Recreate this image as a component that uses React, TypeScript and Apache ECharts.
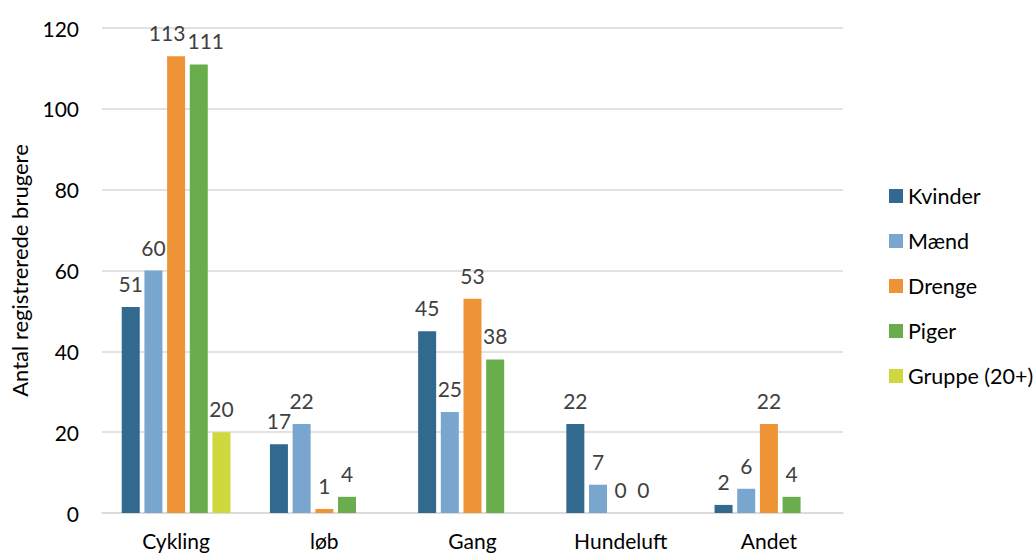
import React, { useEffect, useRef } from "react";
import * as echarts from "echarts";

const categories = ["Cykling", "løb", "Gang", "Hundeluft", "Andet"];
const seriesNames = ["Kvinder", "Mænd", "Drenge", "Piger", "Gruppe (20+)"];
const kvinder = [51, 17, 45, 22, 2];
const maend = [60, 22, 25, 7, 6];
const drenge = [113, 1, 53, 0, 22];
const piger = [111, 4, 38, 0, 4];
const gruppe = [20, null, null, null, null];
const colors = ["#31698F", "#79A6CF", "#EF9436", "#69AD4D", "#CFD83D"];

const FONT = "Lato, 'Open Sans', sans-serif";

export default function App() {
  const ref = useRef<HTMLDivElement>(null);
  useEffect(() => {
    if (!ref.current) return;
    const chart = echarts.init(ref.current, undefined, { renderer: "svg" });
    const values = [kvinder, maend, drenge, piger, gruppe];
    // Excel nudged the two crowded labels above Cykling apart
    const labelNudge: Record<string, number> = { "2-0": -9, "3-0": 7 };
    chart.setOption({
      animation: false,
      backgroundColor: "#ffffff",
      textStyle: { fontFamily: FONT },
      grid: { left: 100, right: 190, top: 28, bottom: 41 },
      legend: {
        orient: "vertical",
        left: 884,
        top: 179,
        itemWidth: 14,
        itemHeight: 14,
        itemGap: 21,
        itemTextGap: 5,
        icon: "rect",
        textStyle: { fontSize: 21.5, color: "#000000", fontFamily: FONT, lineHeight: 24 },
        data: seriesNames,
      },
      xAxis: {
        type: "category",
        data: categories,
        axisLine: { lineStyle: { color: "#d9d9d9", width: 1.5 } },
        axisTick: { show: false },
        axisLabel: { fontSize: 21, lineHeight: 21, color: "#000000", margin: 17, fontFamily: FONT },
      },
      yAxis: {
        type: "value",
        min: 0,
        max: 120,
        interval: 20,
        name: "Antal registrerede brugere",
        nameLocation: "middle",
        nameGap: 72,
        nameTextStyle: { fontSize: 22, color: "#000000", fontFamily: FONT },
        axisLine: { show: false },
        axisTick: { show: false },
        axisLabel: { fontSize: 21, color: "#000000", margin: 23, fontFamily: FONT },
        splitLine: { lineStyle: { color: "#d9d9d9", width: 1.5 } },
      },
      series: seriesNames.map((name, i) => ({
        name,
        type: "bar",
        data: values[i].map((v, j) => {
          const dx = labelNudge[`${i}-${j}`];
          return dx ? { value: v, label: { offset: [dx, 0] } } : v;
        }),
        barWidth: 18,
        barGap: "26%",
        itemStyle: { color: colors[i] },
        label: {
          show: true,
          position: "top",
          distance: 13,
          fontSize: 21,
          color: "#404040",
          fontFamily: FONT,
        },
      })),
    });
    return () => chart.dispose();
  }, []);
  return (
    <div
      ref={ref}
      style={{ position: "fixed", left: 0, top: 0, width: 1033, height: 554 }}
    />
  );
}
